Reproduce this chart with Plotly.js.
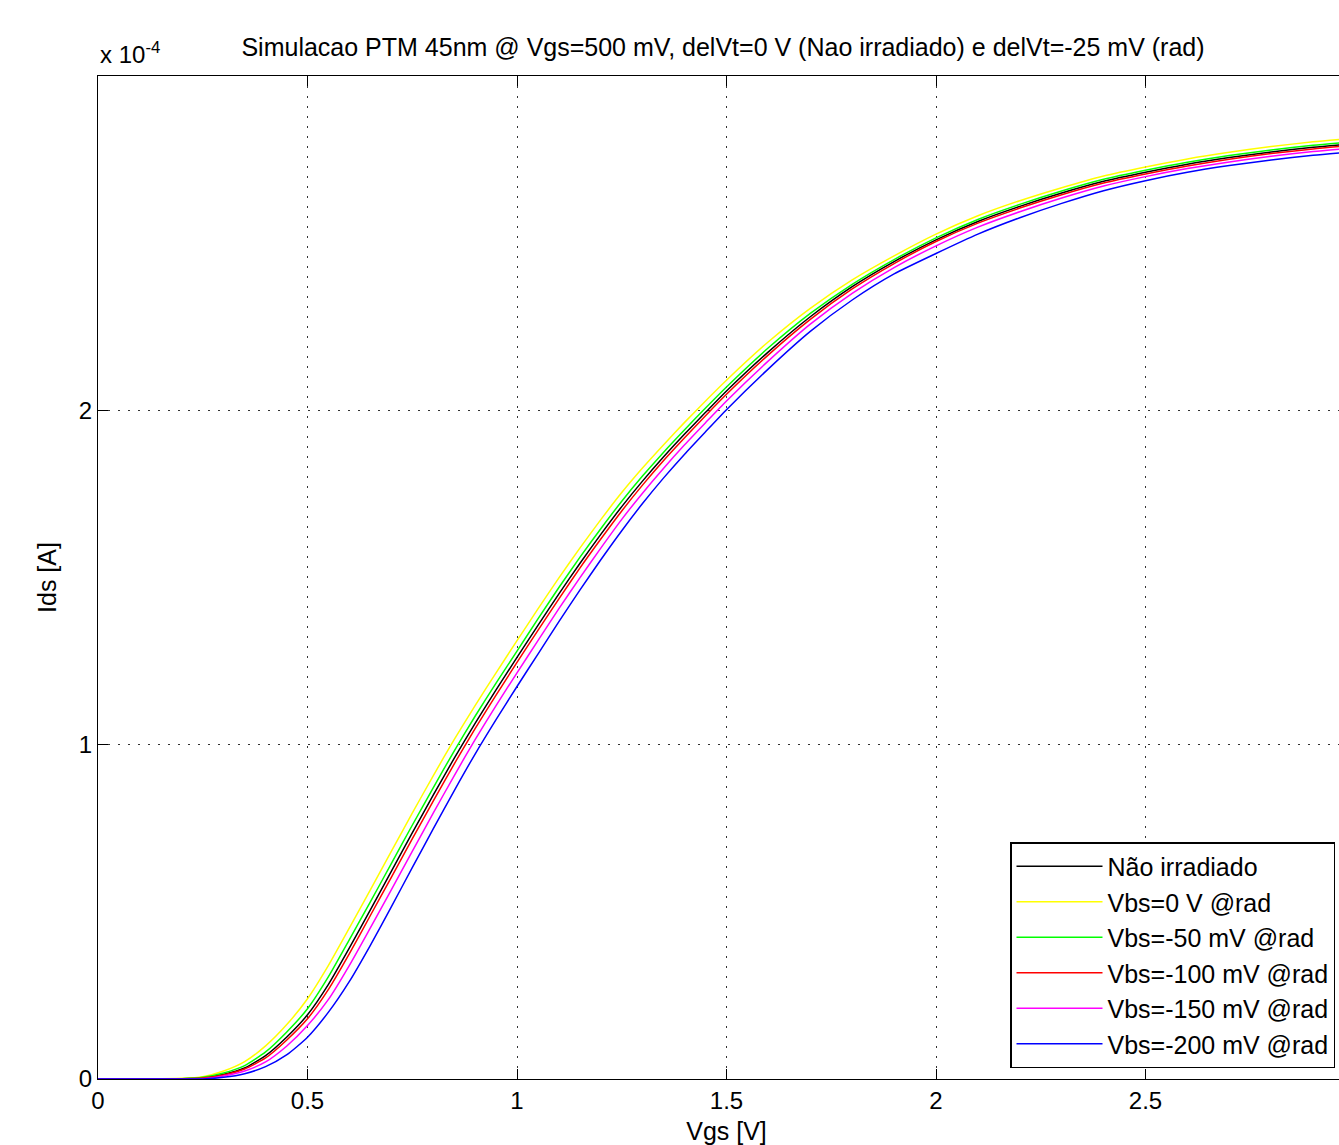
<!DOCTYPE html>
<html>
<head>
<meta charset="utf-8">
<script src="https://cdn.plot.ly/plotly-3.0.1.min.js"></script>
<style>
html,body{margin:0;padding:0;overflow:hidden;background:#fff;}
#chart{width:1400px;height:1145px;}
</style>
</head>
<body>
<div id="chart"></div>
<script>
// Vgs [V]
var vgs = [0,0.1,0.2,0.25,0.3,0.35,0.4,0.45,0.5,0.55,0.6,0.65,0.7,0.75,0.8,0.85,0.9,0.95,1.0,1.05,1.1,1.15,1.2,1.25,1.3,1.35,1.4,1.45,1.5,1.6,1.7,1.8,1.9,2.0,2.1,2.2,2.3,2.4,2.5,2.6,2.7,2.8,2.9,3.0];
// Ids in units of 1e-4 A
var idsNaoIrradiado = [0,0,0.001,0.004,0.014,0.033,0.07,0.125,0.192,0.283,0.392,0.506,0.621,0.736,0.849,0.959,1.064,1.164,1.261,1.357,1.451,1.542,1.629,1.712,1.789,1.861,1.929,1.994,2.058,2.175,2.28,2.37,2.445,2.51,2.565,2.61,2.65,2.685,2.712,2.736,2.756,2.773,2.787,2.798];
var idsVbs0 = [0,0,0.002,0.007,0.024,0.052,0.099,0.162,0.240,0.340,0.452,0.566,0.681,0.795,0.907,1.015,1.117,1.215,1.311,1.406,1.499,1.588,1.673,1.754,1.828,1.897,1.964,2.028,2.090,2.205,2.305,2.390,2.462,2.527,2.582,2.627,2.666,2.701,2.728,2.752,2.772,2.789,2.803,2.814];
var idsVbs50 = [0,0,0.001,0.005,0.018,0.040,0.081,0.140,0.210,0.306,0.417,0.530,0.644,0.759,0.871,0.981,1.085,1.184,1.280,1.376,1.470,1.560,1.646,1.728,1.804,1.875,1.942,2.007,2.070,2.187,2.290,2.377,2.451,2.516,2.571,2.616,2.656,2.691,2.718,2.742,2.762,2.779,2.793,2.804];
var idsVbs100 = [0,0,0.001,0.003,0.012,0.030,0.063,0.116,0.180,0.268,0.375,0.489,0.603,0.718,0.831,0.942,1.048,1.148,1.246,1.342,1.436,1.528,1.615,1.699,1.777,1.850,1.918,1.984,2.048,2.166,2.272,2.363,2.439,2.505,2.560,2.605,2.645,2.680,2.707,2.731,2.751,2.768,2.782,2.793];
var idsVbs150 = [0,0,0,0.001,0.009,0.024,0.051,0.098,0.160,0.238,0.340,0.452,0.566,0.681,0.795,0.907,1.015,1.117,1.215,1.311,1.407,1.499,1.588,1.674,1.753,1.827,1.897,1.963,2.028,2.148,2.258,2.350,2.427,2.492,2.548,2.594,2.635,2.671,2.699,2.723,2.743,2.760,2.774,2.785];
var idsVbs200 = [0,0,0,0,0.005,0.016,0.037,0.072,0.125,0.200,0.292,0.400,0.515,0.632,0.748,0.862,0.972,1.075,1.174,1.271,1.368,1.462,1.553,1.640,1.722,1.798,1.869,1.936,2.002,2.124,2.236,2.330,2.408,2.469,2.527,2.576,2.619,2.657,2.687,2.712,2.732,2.749,2.763,2.774];

var seriesNames = ['Não irradiado','Vbs=0 V @rad','Vbs=-50 mV @rad','Vbs=-100 mV @rad','Vbs=-150 mV @rad','Vbs=-200 mV @rad'];
var seriesColors = ['#000000','#ffff00','#00ff00','#ff0000','#ff00ff','#0000ff'];
var seriesData = [idsNaoIrradiado, idsVbs0, idsVbs50, idsVbs100, idsVbs150, idsVbs200];

var xTicks = [0,0.5,1,1.5,2,2.5];
var yTicks = [0,1,2];

var traces = seriesData.map(function(d,i){
  return {x: vgs, y: d, type:'scatter', mode:'lines', name: seriesNames[i],
    line:{color: seriesColors[i], width:1.5, shape:'spline', smoothing:0.6}};
});

var font = 'Liberation Sans, Arial, sans-serif';
var axisCommon = {
  showline:true, linecolor:'#000', linewidth:1, mirror:'ticks',
  ticks:'inside', ticklen:10, tickcolor:'#000', tickwidth:1,
  showgrid:true, gridcolor:'#333', gridwidth:1, griddash:'2px,8px',
  zeroline:false, tickfont:{family:font, size:24, color:'#000'}
};

var layout = {
  width:1400, height:1145,
  margin:{l:98, r:45, t:76, b:66},
  paper_bgcolor:'#fff', plot_bgcolor:'#fff',
  font:{family:font, color:'#000'},
  title:{text:'Simulacao PTM 45nm @ Vgs=500 mV, delVt=0 V (Nao irradiado) e delVt=-25 mV (rad)',
    font:{family:font, size:25, color:'#000'}, xref:'container', x:723/1400, xanchor:'center',
    yref:'container', y:1-47/1145, yanchor:'middle'},
  xaxis: Object.assign({}, axisCommon, {range:[0,3], tickvals:xTicks, ticktext:xTicks.map(String),
    title:{text:'Vgs [V]', font:{family:font, size:25, color:'#000'}, standoff:10}}),
  yaxis: Object.assign({}, axisCommon, {range:[0,3], tickvals:yTicks, ticktext:yTicks.map(String),
    title:{text:'Ids [A]', font:{family:font, size:25, color:'#000'}, standoff:15}}),
  legend:{x:(1010-98)/1257, y:(1079-1068)/1003, xanchor:'left', yanchor:'bottom',
    bgcolor:'#fff', bordercolor:'#000', borderwidth:1.5,
    font:{family:font, size:25, color:'#000'}, itemwidth:86, tracegroupgap:0},
  showlegend:true,
  annotations:[{xref:'paper', yref:'paper', x:0, y:1, xanchor:'left', yanchor:'bottom', yshift:6,
    text:'x 10<sup>-4</sup>', showarrow:false, font:{family:font, size:24, color:'#000'}}]
};

Plotly.newPlot('chart', traces, layout, {displayModeBar:false, staticPlot:true});
</script>
</body>
</html>
